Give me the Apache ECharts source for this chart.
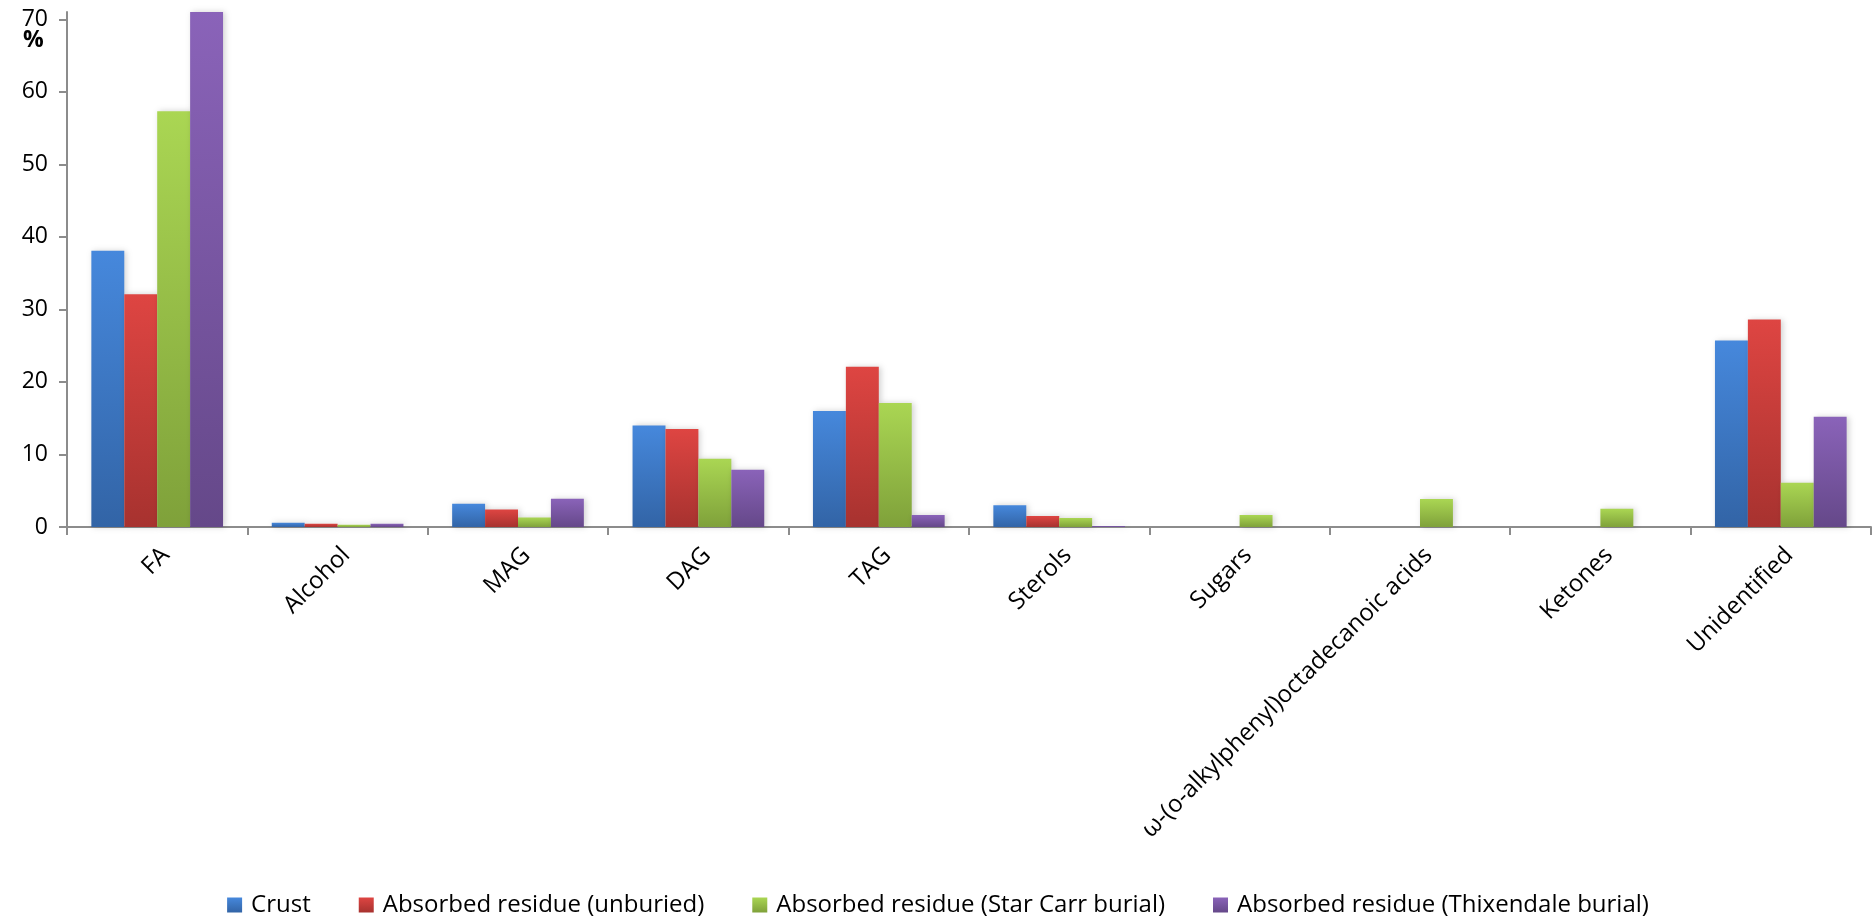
<!DOCTYPE html>
<html>
<head>
<meta charset="utf-8">
<script src="https://cdn.jsdelivr.net/npm/echarts@6/dist/echarts.min.js"></script>
<style>
html,body{margin:0;padding:0;background:#fff;}
#chart{width:1876px;height:922px;}
</style>
</head>
<body>
<div id="chart"></div>
<script>
const categories = ['FA','Alcohol','MAG','DAG','TAG','Sterols','Sugars','ω-(o-alkylphenyl)octadecanoic acids','Ketones','Unidentified'];
const seriesNames = ['Crust','Absorbed residue (unburied)','Absorbed residue (Star Carr burial)','Absorbed residue (Thixendale burial)'];
const crust      = [38.1, 0.6, 3.2, 14.0, 16.0, 3.0, 0, 0, 0, 25.7];
const unburied   = [32.1, 0.45, 2.4, 13.5, 22.1, 1.5, 0, 0, 0, 28.6];
const starCarr   = [57.3, 0.3, 1.3, 9.4, 17.1, 1.25, 1.65, 3.85, 2.5, 6.1];
const thixendale = [71.0, 0.45, 3.9, 7.9, 1.65, 0.15, 0, 0, 0, 15.2];
const yTicks = [0,10,20,30,40,50,60,70];

const grads = [
  ['#4688dc','#3264a6'],
  ['#de4542','#a7322f'],
  ['#aad653','#7fa13a'],
  ['#8a63b9','#654889']
];
const seriesData = [crust, unburied, starCarr, thixendale];
const FONT = '"Open Sans", sans-serif';

const chart = echarts.init(document.getElementById('chart'));
chart.setOption({
  animation: false,
  backgroundColor: '#ffffff',
  title: {
    text: '%', left: 18, top: 24,
    textStyle: {fontFamily: FONT, fontSize: 23, fontWeight: 'bold', color: '#000'}
  },
  legend: {
    top: 888, left: 'center',
    itemWidth: 15, itemHeight: 15, itemGap: 48,
    icon: 'rect',
    textStyle: {fontFamily: FONT, fontSize: 24, color: '#000', padding: [0,0,0,4]},
    data: seriesNames
  },
  grid: {left: 67, right: 5, top: 12, bottom: 395, containLabel: false},
  xAxis: {
    type: 'category',
    data: categories,
    axisLine: {lineStyle: {color: '#8c8c8c', width: 2}},
    axisTick: {show: true, length: 8, lineStyle: {color: '#8c8c8c', width: 2}},
    axisLabel: {rotate: 45, interval: 0, margin: 16, verticalAlign: 'top', color: '#000', fontFamily: FONT, fontSize: 24}
  },
  yAxis: {
    type: 'value', min: 0, max: 71, interval: 10,
    splitLine: {show: false},
    axisLine: {show: true, lineStyle: {color: '#8c8c8c', width: 2}},
    axisTick: {show: true, length: 8, customValues: yTicks, lineStyle: {color: '#8c8c8c', width: 2}},
    axisLabel: {customValues: yTicks, margin: 19, color: '#000', fontFamily: FONT, fontSize: 23}
  },
  series: seriesNames.map((name, i) => ({
    name: name,
    type: 'bar',
    data: seriesData[i],
    barGap: '0%',
    barCategoryGap: '27%',
    itemStyle: {
      color: new echarts.graphic.LinearGradient(0,0,0,1,[{offset:0,color:grads[i][0]},{offset:1,color:grads[i][1]}]),
      shadowBlur: 6, shadowColor: 'rgba(0,0,0,0.18)', shadowOffsetX: 2, shadowOffsetY: 0
    }
  }))
});
</script>
</body>
</html>
